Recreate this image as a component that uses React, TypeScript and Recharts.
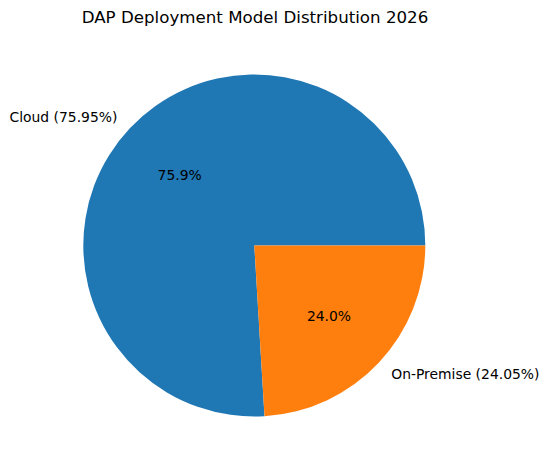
import React from "react";
import { PieChart, Pie, Cell } from "recharts";

const categories = ["Cloud", "On-Premise"];
const shares = [75.95, 24.05];
const pctLabels = ["75.9%", "24.0%"];
const colors = ["#1f77b4", "#ff7f0e"];
const title = "DAP Deployment Model Distribution 2026";

const data = categories.map((name, i) => ({ name, value: shares[i], pct: pctLabels[i] }));

const FONT = "'DejaVu Sans', sans-serif";
const RAD = Math.PI / 180;

const renderLabel = (props: any) => {
  const { cx, cy, midAngle, outerRadius, index } = props;
  const d = data[index];
  const cos = Math.cos(-midAngle * RAD);
  const sin = Math.sin(-midAngle * RAD);
  const ox = cx + outerRadius * 1.1 * cos;
  const oy = cy + outerRadius * 1.1 * sin;
  const ix = cx + outerRadius * 0.6 * cos;
  const iy = cy + outerRadius * 0.6 * sin;
  return (
    <g>
      <text
        x={ox}
        y={oy}
        textAnchor={cos < 0 ? "end" : "start"}
        dominantBaseline="central"
        fontFamily={FONT}
        fontSize={13.9}
        fill="#000"
      >
        {`${d.name} (${d.value.toFixed(2)}%)`}
      </text>
      <text
        x={ix}
        y={iy}
        textAnchor="middle"
        dominantBaseline="central"
        fontFamily={FONT}
        fontSize={13.9}
        fill="#000"
      >
        {d.pct}
      </text>
    </g>
  );
};

export default function App() {
  return (
    <div style={{ position: "absolute", left: 0, top: 0, width: 548, height: 470, background: "#fff" }}>
      <div
        style={{
          position: "absolute",
          left: 0,
          top: 8,
          width: 510,
          textAlign: "center",
          fontFamily: FONT,
          fontSize: 16.67,
          lineHeight: "20px",
          color: "#000",
        }}
      >
        {title}
      </div>
      <PieChart
        width={548}
        height={470}
        margin={{ top: 0, right: 0, bottom: 0, left: 0 }}
        style={{ position: "absolute", left: 0, top: 0 }}
      >
        <Pie
          data={data}
          dataKey="value"
          nameKey="name"
          cx={254.3}
          cy={245.5}
          innerRadius={0}
          outerRadius={171}
          startAngle={0}
          endAngle={360}
          stroke="none"
          label={renderLabel}
          labelLine={false}
          isAnimationActive={false}
        >
          {data.map((d, i) => (
            <Cell key={d.name} fill={colors[i]} />
          ))}
        </Pie>
      </PieChart>
    </div>
  );
}
